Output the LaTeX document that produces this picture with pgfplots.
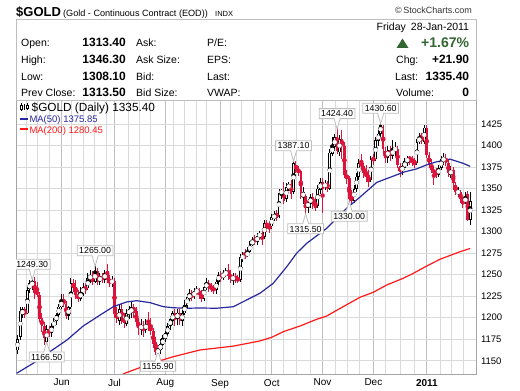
\documentclass[border=0pt]{standalone}
\usepackage{pgfplots}
\pgfplotsset{compat=1.18}
\usepackage{pgfplotstable}
\usepackage{fontspec}
\setmainfont{Liberation Sans}
\usetikzlibrary{shapes.callouts}
\definecolor{candlered}{RGB}{220,20,60}
\definecolor{manavy}{RGB}{40,40,160}
\definecolor{mared}{RGB}{255,25,25}
\definecolor{gridminor}{RGB}{218,218,218}
\definecolor{gridmajor}{RGB}{192,192,192}
\definecolor{framegray}{RGB}{165,165,165}
\definecolor{boxgray}{RGB}{190,190,190}
\definecolor{upgreen}{RGB}{51,102,51}
\newcommand{\fsz}[1]{\fontsize{#1}{#1}\selectfont}
\tikzset{
  hi/.style={rectangle callout, draw=boxgray, fill=white, line width=0.8pt, font=\fsz{8.8}, inner xsep=2pt, inner ysep=1.8pt, text height=6.4pt, text depth=0pt, callout pointer width=6pt, yshift=11pt, callout relative pointer={(0pt,-10.5pt)}},
  lo/.style={rectangle callout, draw=boxgray, fill=white, line width=0.8pt, font=\fsz{8.8}, inner xsep=2pt, inner ysep=1.8pt, text height=6.4pt, text depth=0pt, callout pointer width=6pt, yshift=-10.5pt, callout relative pointer={(0pt,10pt)}},
}

\pgfplotstableread{
i o h l c
1 1162 1180 1158 1175
2 1178 1212 1174 1208
3 1203 1213 1200 1210
5 1205 1236 1204 1232
6 1233 1244 1229 1240
7 1236 1249.3 1232 1243
13 1172 1192 1166.5 1187
15 1182 1194 1178 1190
16 1190 1200 1186 1196
17 1196 1206 1192 1203
18 1203 1216 1200 1213
19 1212 1228 1210 1220
22 1202 1214 1197 1212
23 1212 1246 1210 1240
27 1222 1236 1219 1230
28 1228 1240 1225 1236
30 1234 1252 1232 1246
31 1244 1255 1240 1250
33 1242 1265 1240 1254
35 1242 1252 1238 1248
37 1244 1256 1240 1252
40 1240 1248 1236 1244
43 1196 1215 1192 1210
46 1193 1210 1190 1205
47 1203 1214 1198 1210
48 1205 1218 1200 1212
52 1186 1198 1180 1192
54 1186 1198 1182 1193
59 1160 1168 1155.9 1162
60 1162 1175 1158 1170
61 1168 1180 1164 1176
62 1175 1186 1172 1182
63 1181 1194 1178 1190
64 1190 1202 1186 1198
65 1196 1208 1192 1205
67 1198 1210 1192 1206
69 1196 1212 1190 1205
70 1205 1221 1203 1215
71 1214 1228 1210 1224
72 1222 1233 1220 1228
74 1225 1235 1222 1230
75 1229 1237 1226 1233
78 1222 1240 1220 1236
79 1235 1246 1232 1240
83 1232 1246 1228 1242
84 1242 1253 1238 1250
86 1246 1256 1244 1252
87 1250 1258 1247 1254
90 1244 1252 1238 1248
93 1244 1274 1242 1270
94 1268 1276 1265 1273
96 1272 1282 1270 1276
97 1276 1289 1274 1286
98 1285 1294 1283 1290
100 1288 1299 1285 1295
101 1294 1301 1290 1298
103 1294 1313 1292 1310
106 1306 1320 1303 1317
107 1315 1324 1312 1320
109 1318 1350 1316 1345
110 1345 1350 1338 1347
112 1338 1356 1335 1352
113 1350 1358 1347 1355
115 1346 1387.1 1344 1380
119 1340 1352 1332 1346
121 1328 1338 1322 1334
122 1332 1344 1328 1340
125 1330 1354 1328 1350
126 1348 1362 1344 1358
128 1352 1360 1348 1356
130 1350 1396 1348 1392
131 1390 1410 1388 1400
132 1398 1414 1394 1410
134 1392 1412 1388 1408
140 1336 1354 1333 1350
141 1350 1368 1346 1364
142 1364 1384 1360 1380
147 1360 1388 1358 1384
149 1384 1410 1382 1406
150 1405 1418 1400 1414
151 1414 1430.6 1410 1424
154 1386 1400 1380 1395
156 1388 1406 1384 1396
157 1394 1404 1388 1398
160 1370 1380 1366 1376
161 1374 1386 1372 1382
162 1380 1388 1376 1386
166 1380 1408 1378 1404
167 1404 1415 1402 1410
169 1404 1424 1402 1421
175 1366 1377 1364 1374
176 1374 1388 1372 1384
177 1382 1391 1378 1386
180 1366 1376 1362 1372
183 1344 1352 1340 1348
186 1334 1346 1332 1340
188 1313.4 1346.3 1308.1 1335.4
}\upT

\pgfplotstableread{
i o h l c
4 1210 1212 1200 1204
8 1243 1247 1222 1229
9 1232 1242 1224 1226
10 1226 1230 1195 1198
11 1200 1205 1183 1190
12 1190 1195 1168 1176
14 1187 1190 1178 1182
20 1220 1227 1212 1216
21 1216 1220 1198 1202
24 1240 1245 1230 1234
25 1236 1244 1222 1226
26 1226 1232 1218 1222
29 1236 1240 1228 1232
32 1250 1254 1238 1242
34 1254 1258 1238 1242
36 1248 1252 1240 1244
38 1254 1263 1240 1244
39 1244 1250 1236 1240
41 1243 1246 1200 1204
42 1205 1212 1194 1198
44 1210 1216 1193 1198
45 1200 1206 1188 1194
49 1212 1216 1200 1208
50 1208 1212 1190 1195
51 1195 1200 1180 1188
53 1192 1196 1178 1186
55 1194 1207 1184 1190
56 1190 1200 1180 1184
57 1184 1188 1165 1170
58 1172 1178 1157 1160
66 1205 1210 1190 1198
68 1206 1210 1192 1196
73 1228 1232 1219 1225
76 1232 1235 1222 1226
77 1227 1232 1218 1222
80 1240 1244 1230 1236
81 1236 1240 1230 1234
82 1235 1238 1228 1232
85 1250 1254 1242 1246
88 1254 1262 1244 1248
89 1250 1256 1240 1245
91 1248 1252 1240 1245
92 1246 1250 1240 1243
95 1274 1280 1268 1272
99 1292 1296 1284 1288
102 1298 1302 1284 1292
104 1310 1313 1300 1306
105 1306 1312 1298 1304
108 1322 1325 1312 1316
111 1347 1358 1332 1336
114 1355 1360 1338 1344
116 1378 1382 1368 1372
117 1372 1376 1365 1370
118 1370 1372 1338 1344
120 1342 1344 1315.5 1328
123 1340 1345 1326 1332
124 1334 1340 1324 1328
127 1358 1362 1322 1350
129 1356 1359 1346 1352
133 1410 1424.4 1390 1394
135 1408 1418 1385 1400
136 1400 1404 1362 1366
137 1366 1372 1355 1362
138 1362 1365 1330 1338
139 1342 1348 1332 1336
143 1380 1390 1372 1376
144 1376 1380 1362 1368
145 1368 1378 1358 1364
146 1366 1372 1352 1358
148 1386 1390 1378 1383
152 1420 1424 1390 1396
153 1394 1398 1380 1386
155 1395 1400 1382 1388
158 1396 1400 1374 1378
159 1376 1380 1364 1370
163 1386 1388 1378 1384
164 1384 1388 1376 1382
165 1383 1386 1374 1378
168 1412 1415 1402 1405
170 1421 1424 1386 1389
171 1389 1392 1374 1378
172 1378 1384 1368 1372
173 1372 1376 1354 1368
174 1370 1374 1362 1366
178 1386 1390 1376 1380
179 1380 1384 1364 1368
181 1372 1375 1348 1356
182 1354 1358 1343 1346
184 1346 1348 1333 1338
185 1338 1340 1328 1334
187 1344 1347 1312 1313.5
}\downT

\pgfplotstableread{
i v
0.6 1135.5
7.4 1147
14.3 1160.5
21.3 1174
28.1 1190.4
35 1203
40.5 1212.8
46 1218.3
50.2 1219.8
55.7 1217.5
61.2 1212.8
65.3 1211.6
70.8 1211
76.3 1211.3
83.2 1211
90.1 1212.8
95.6 1220.6
101.1 1228.4
106.6 1240
112.2 1259.3
116.3 1275
120.4 1286.4
128.7 1303.9
136.9 1327.1
142.4 1340
149.4 1357.3
156.2 1364.5
160.3 1369
165.9 1373
170 1377.6
174.1 1381.2
179.6 1384.3
185.1 1379.4
188 1375.85
}\maFifty

\pgfplotstableread{
i v
44 1133.5
45.3 1135.5
51.5 1142
59.8 1150
65.3 1154.7
76.3 1162.5
90.1 1167
101.1 1173
106 1177.3
110.8 1183.8
117.7 1190.4
124.6 1198.2
128.7 1202
135.5 1212.8
142.4 1223.7
147.9 1229.5
153.5 1238
160.3 1245.8
164.5 1251.6
170 1260
175.5 1267.9
183.8 1276.7
188 1280.45
}\maTwoHundred

\begin{document}
\begin{tikzpicture}
\useasboundingbox[fill=white] (0pt,0pt) rectangle (520pt,391pt);
\begin{axis}[
  at={(16pt,17pt)}, anchor=south west,
  scale only axis, width=460pt, height=274pt,
  xmin=0.3, xmax=190.4, ymin=1134.6, ymax=1453,
  axis line style={draw=framegray, line width=0.8pt},
  xtick={19.2,41,62,84.6,106,127,148,170.1},
  xticklabels={Jun,Jul,Aug,Sep,Oct,Nov,Dec,\textbf{2011}},
  minor xtick={4.7,9.3,14.1,23.3,28.1,32.7,37.8,46.7,51.2,55.7,65.3,69.8,75,79.1,88.7,93.6,98.4,103.2,110.8,116.3,121.8,132.1,137.2,142.4,152.8,159,164.8,175.5,180.3,185.1},
  ytick={1150,1175,...,1425},
  yticklabel pos=right,
  xmajorgrids, xminorgrids, ymajorgrids,
  major x grid style={draw=gridmajor, line width=0.9pt},
  minor x grid style={draw=gridminor, line width=0.8pt},
  major y grid style={draw=gridminor, line width=0.8pt},
  major tick length=0pt, minor tick length=0pt,
  /pgf/number format/assume math mode=true,
  /pgf/number format/1000 sep={},
  yticklabel style={anchor=west, xshift=1.5pt, font=\fsz{9.5}},
  xticklabel style={yshift=-1.5pt, font=\fsz{10}},
]
% red candles: wicks and filled bodies
\addplot[candlered, only marks, mark=none, forget plot, error bars/.cd, y dir=both, y explicit, error mark=none, error bar style={line width=1pt, candlered}]
  table[x=i, y expr={(\thisrow{h}+\thisrow{l})/2}, y error expr={(\thisrow{h}-\thisrow{l})/2}] {\downT};
\addplot[candlered, only marks, mark=none, forget plot, error bars/.cd, y dir=both, y explicit, error mark=none, error bar style={line width=2.6pt, candlered}]
  table[x=i, y expr={(\thisrow{o}+\thisrow{c})/2}, y error expr={abs(\thisrow{c}-\thisrow{o})/2}] {\downT};
% black candles: wicks, outlined hollow bodies
\addplot[black, only marks, mark=none, forget plot, error bars/.cd, y dir=both, y explicit, error mark=none, error bar style={line width=1pt, black}]
  table[x=i, y expr={(\thisrow{h}+\thisrow{l})/2}, y error expr={(\thisrow{h}-\thisrow{l})/2}] {\upT};
\addplot[black, only marks, mark=none, forget plot, error bars/.cd, y dir=both, y explicit, error mark=none, error bar style={line width=2.8pt, black}]
  table[x=i, y expr={(\thisrow{o}+\thisrow{c})/2}, y error expr={abs(\thisrow{c}-\thisrow{o})/2}] {\upT};
\addplot[white, only marks, mark=none, forget plot, error bars/.cd, y dir=both, y explicit, error mark=none, error bar style={line width=1pt, white}]
  table[x=i, y expr={(\thisrow{o}+\thisrow{c})/2}, y error expr={max(abs(\thisrow{c}-\thisrow{o})/2-1.0,0)}] {\upT};
% moving averages
\addplot[manavy, line width=1.2pt, mark=none] table[x=i, y=v] {\maFifty};
\addplot[mared, line width=1.2pt, mark=none] table[x=i, y=v] {\maTwoHundred};
% callouts
\node[hi] at (axis cs:7,1249.3) {1249.30};
\node[hi] at (axis cs:33,1265) {1265.00};
\node[hi] at (axis cs:115,1387.1) {1387.10};
\node[hi] at (axis cs:133,1424.4) {1424.40};
\node[hi] at (axis cs:151,1430.6) {1430.60};
\node[lo] at (axis cs:13,1166.5) {1166.50};
\node[lo] at (axis cs:59,1155.9) {1155.90};
\node[lo] at (axis cs:120,1315.5) {1315.50};
\node[lo] at (axis cs:138,1330) {1330.00};
\end{axis}
\begin{scope}[x=1pt,y=-1pt,yshift=391pt]
  % title line
  \node[anchor=base west, inner sep=0pt] at (16,16.5) {\fsz{13}\bfseries \$GOLD};
  \node[anchor=base west, inner sep=0pt] at (63,16.5) {\fsz{9.1}(Gold - Continuous Contract (EOD))};
  \node[anchor=base west, inner sep=0pt] at (215,16.5) {\fsz{7.5}INDX};
  \node[anchor=base east, inner sep=0pt, text=black!80] at (472,14) {\fsz{9}\textcopyright\,StockCharts.com};
  % header box
  \draw[boxgray, line width=0.8pt] (16,19) rectangle (476,100);
  % left columns
  \foreach \yy/\lab/\val/\labb/\labc in {47/Open:/1313.40/Ask:/P\slash E:, 63.5/High:/1346.30/Ask Size:/EPS:, 80.5/Low:/1308.10/Bid:/Last:, 97/Prev Close:/1313.50/Bid Size:/VWAP:}{
    \node[anchor=base west, inner sep=0pt] at (21,\yy) {\fsz{10.5}\lab};
    \node[anchor=base east, inner sep=0pt] at (126,\yy) {\fsz{12}\bfseries \val};
    \node[anchor=base west, inner sep=0pt] at (136,\yy) {\fsz{10.5}\labb};
    \node[anchor=base west, inner sep=0pt] at (207,\yy) {\fsz{10.5}\labc};
  }
  % right column
  \node[anchor=base east, inner sep=0pt] at (469.3,31) {\fsz{10.5}Friday\hspace{5pt}28-Jan-2011};
  \fill[upgreen] (396.5,48) -- (408.5,48) -- (402.5,38.5) -- cycle;
  \node[anchor=base east, inner sep=0pt, text=upgreen] at (469.3,48) {\fsz{14}\bfseries +1.67\%};
  \node[anchor=base west, inner sep=0pt] at (396,64) {\fsz{10.5}Chg:};
  \node[anchor=base east, inner sep=0pt] at (469.3,64) {\fsz{12}\bfseries +21.90};
  \node[anchor=base west, inner sep=0pt] at (395,81) {\fsz{10.5}Last:};
  \node[anchor=base east, inner sep=0pt] at (469.3,81) {\fsz{12}\bfseries 1335.40};
  \node[anchor=base west, inner sep=0pt] at (396,97) {\fsz{10.5}Volume:};
  \node[anchor=base east, inner sep=0pt] at (469.3,97) {\fsz{12}\bfseries 0};
  % in-chart legend
  \draw[black, line width=0.8pt] (21,103.5) -- (21,111.5) (24,104.5) -- (24,110.5) (27,103.5) -- (27,110);
  \draw[black, line width=0.7pt, fill=white] (20,105.5) rectangle (22,109.5);
  \draw[black, line width=0.7pt, fill=white] (26,105) rectangle (28,108);
  \node[anchor=base west, inner sep=0pt] at (31.5,111.5) {\fsz{11.8}\$GOLD (Daily) 1335.40};
  \draw[manavy, line width=2pt] (20,119) -- (28,119);
  \node[anchor=base west, inner sep=0pt, text=manavy] at (29.3,122.3) {\fsz{9.5}MA(50) 1375.85};
  \draw[mared, line width=2pt] (20,129.5) -- (28,129.5);
  \node[anchor=base west, inner sep=0pt, text=mared] at (29.3,133.3) {\fsz{9.5}MA(200) 1280.45};
\end{scope}
\end{tikzpicture}
\end{document}
